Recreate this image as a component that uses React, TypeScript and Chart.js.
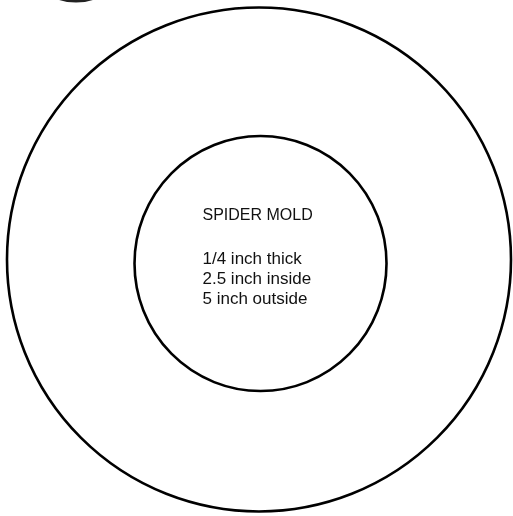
import React, { useEffect, useRef } from "react";
import { Chart, registerables } from "chart.js";

Chart.register(...registerables);

// Circle data in inches (diameters from the label)
const circleNames = ["outside", "inside"];
const circleCenterX = [0, 0.015];
const circleCenterY = [0, -0.04];
const circleRadiusX = [2.5, 1.25];
const circleRadiusY = [2.5, 1.265];

const titleLine = "SPIDER MOLD";
const specLines = ["1/4 inch thick", "2.5 inch inside", "5 inch outside"];

const W = 513;
const H = 516;
const PX_PER_IN = 100.8;

const circlesPlugin = {
  id: "circles",
  afterDraw(chart: any) {
    const { ctx, scales } = chart;
    const xs = scales.x;
    const ys = scales.y;
    ctx.save();
    // clipped blob at top-left
    ctx.beginPath();
    ctx.strokeStyle = "#222";
    ctx.lineWidth = 3;
    ctx.ellipse(76, -13, 29, 14, 0, 0, Math.PI * 2);
    ctx.stroke();

    ctx.strokeStyle = "#000";
    ctx.lineWidth = 2.6;
    for (let i = 0; i < circleNames.length; i++) {
      const cx = xs.getPixelForValue(circleCenterX[i]);
      const cy = ys.getPixelForValue(circleCenterY[i]);
      const rx = Math.abs(xs.getPixelForValue(circleCenterX[i] + circleRadiusX[i]) - cx);
      const ry = Math.abs(ys.getPixelForValue(circleCenterY[i] + circleRadiusY[i]) - cy);
      ctx.beginPath();
      ctx.ellipse(cx, cy, rx, ry, 0, 0, Math.PI * 2);
      ctx.stroke();
    }
    // label inside inner circle
    const icx = xs.getPixelForValue(circleCenterX[1]);
    const icy = ys.getPixelForValue(circleCenterY[1]);
    ctx.fillStyle = "#111";
    ctx.textAlign = "left";
    ctx.textBaseline = "alphabetic";
    ctx.font = "16px 'Liberation Sans', Arial, sans-serif";
    ctx.fillText(titleLine, icx - 58, icy - 44);
    ctx.font = "17px 'Liberation Sans', Arial, sans-serif";
    specLines.forEach((t, k) => {
      ctx.fillText(t, icx - 58, icy + k * 20);
    });
    ctx.restore();
  },
};

export default function App() {
  const ref = useRef<HTMLCanvasElement>(null);
  useEffect(() => {
    const canvas = ref.current!;
    const chart = new Chart(canvas, {
      type: "scatter",
      data: { datasets: [{ data: [], pointRadius: 0 }] },
      options: {
        responsive: false,
        animation: false,
        layout: { padding: 0 },
        plugins: { legend: { display: false }, tooltip: { enabled: false }, title: { display: false } },
        scales: {
          x: { type: "linear", display: false, min: -259 / PX_PER_IN, max: (W - 259) / PX_PER_IN },
          y: { type: "linear", display: false, min: -(H - 259.5) / PX_PER_IN, max: 259.5 / PX_PER_IN },
        },
      },
      plugins: [circlesPlugin],
    });
    return () => chart.destroy();
  }, []);
  return (
    <div style={{ position: "fixed", left: 0, top: 0, width: W, height: H, background: "#fff" }}>
      <canvas ref={ref} width={W} height={H} style={{ width: W, height: H, display: "block" }} />
    </div>
  );
}
